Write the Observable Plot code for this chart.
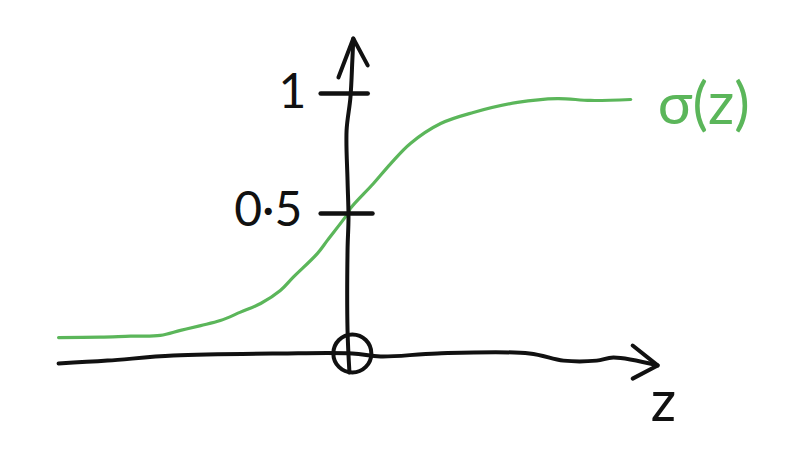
<!DOCTYPE html>
<html>
<head>
<meta charset="utf-8">
<script src="https://cdn.jsdelivr.net/npm/d3@7"></script>
<script src="https://cdn.jsdelivr.net/npm/@observablehq/plot@0.6"></script>
<style>
  html, body { margin: 0; padding: 0; background: #fff; }
  #chart svg { display: block; }
</style>
</head>
<body>
<div id="chart"></div>
<script>
// sigmoid curve
const curveZ     = [-6.04, -5.17, -4.54, -3.92, -3.50, -3.08, -2.67, -2.25, -1.83, -1.42, -1.15, -0.65, -0.44, 0.00, 0.04, 0.52, 0.88, 1.29, 1.92, 2.60, 3.52, 4.35, 5.04, 5.88];
const curveSigma = [-0.017, -0.015, -0.011, -0.008, 0.013, 0.033, 0.054, 0.089, 0.125, 0.179, 0.235, 0.333, 0.388, 0.504, 0.521, 0.625, 0.708, 0.792, 0.875, 0.921, 0.963, 0.979, 0.971, 0.975];

// hand-drawn horizontal axis (z)
const hAxisZ = [-6.04, -5.02, -3.65, -1.42, 0.08, 0.67, 1.85, 3.77, 4.48, 5.17, 5.52, 6.44];
const hAxisY = [-0.125, -0.113, -0.092, -0.083, -0.083, -0.096, -0.083, -0.083, -0.113, -0.113, -0.100, -0.133];
const hArrowZ = [5.92, 6.44, 5.92];
const hArrowY = [-0.050, -0.133, -0.188];

// hand-drawn vertical axis
const vAxisZ = [0.02, -0.02, -0.02, 0.00, -0.02, -0.04, 0.04, 0.08, 0.10];
const vAxisY = [-0.163, 0.013, 0.346, 0.483, 0.638, 0.846, 0.983, 1.138, 1.229];
const vArrowZ = [-0.21, 0.10, 0.40];
const vArrowY = [1.067, 1.229, 1.117];

// tick marks on the vertical axis
const tickValues = [1, 0.5];
const tickLabels = ["1", "0·5"];
const tickStart = -0.58;
const tickEnd = [0.40, 0.50];
const tickLabelZ = [-1.17, -1.67];
const tickLabelY = [1.004, 0.513];

// origin marker and axis labels
const originZ = [0.08];
const originY = [-0.083];
const curveLabel = ["σ(z)"];
const curveLabelZ = [7.40];
const curveLabelY = [0.95];
const axisLabel = ["z"];
const axisLabelZ = [6.56];
const axisLabelY = [-0.29];

const green = "#5bb65a";
const ink = "#111";

const zip2 = (xs, ys) => xs.map((x, i) => ({z: x, s: ys[i]}));
const curve = zip2(curveZ, curveSigma);
const hAxis = zip2(hAxisZ, hAxisY);
const hArrow = zip2(hArrowZ, hArrowY);
const vAxis = zip2(vAxisZ, vAxisY);
const vArrow = zip2(vArrowZ, vArrowY);
const ticks = tickValues.map((v, i) => ({s: v, z1: tickStart, z2: tickEnd[i]}));
const tickText = tickLabels.map((t, i) => ({t, z: tickLabelZ[i], s: tickLabelY[i]}));

const W = 789, H = 462;
const chart = Plot.plot({
  width: W,
  height: H,
  margin: 0,
  x: {domain: [-348 / 48, (W - 348) / 48], axis: null},
  y: {domain: [(333 - H) / 240, 333 / 240], axis: null},
  marks: [
    Plot.line(curve, {x: "z", y: "s", stroke: green, strokeWidth: 3.2, curve: "catmull-rom"}),
    Plot.line(hAxis, {x: "z", y: "s", stroke: ink, strokeWidth: 4, curve: "catmull-rom", strokeLinecap: "round"}),
    Plot.line(hArrow, {x: "z", y: "s", stroke: ink, strokeWidth: 4, strokeLinecap: "round", strokeLinejoin: "round"}),
    Plot.line(vAxis, {x: "z", y: "s", stroke: ink, strokeWidth: 4, curve: "catmull-rom", strokeLinecap: "round"}),
    Plot.line(vArrow, {x: "z", y: "s", stroke: ink, strokeWidth: 4, strokeLinecap: "round", strokeLinejoin: "round"}),
    Plot.link(ticks, {x1: "z1", x2: "z2", y1: "s", y2: "s", stroke: ink, strokeWidth: 4.5, strokeLinecap: "round"}),
    Plot.dot(zip2(originZ, originY), {x: "z", y: "s", r: 19, stroke: ink, strokeWidth: 4, fill: "none"}),
    Plot.text(tickText, {x: "z", y: "s", text: "t", fontSize: 48, fill: ink, fontFamily: "Lato, 'DejaVu Sans', sans-serif", textAnchor: "middle"}),
    Plot.text(zip2(curveLabelZ, curveLabelY), {x: "z", y: "s", text: () => curveLabel[0], fontSize: 58, fill: green, fontFamily: "Lato, 'DejaVu Sans', sans-serif", textAnchor: "middle"}),
    Plot.text(zip2(axisLabelZ, axisLabelY), {x: "z", y: "s", text: () => axisLabel[0], fontSize: 56, fill: ink, fontFamily: "Lato, 'DejaVu Sans', sans-serif", textAnchor: "middle"})
  ]
});
document.getElementById("chart").appendChild(chart);
</script>
</body>
</html>
